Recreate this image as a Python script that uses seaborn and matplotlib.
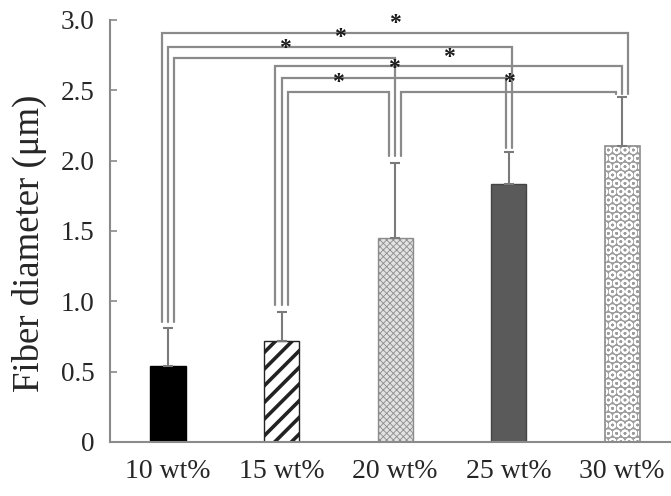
import matplotlib
matplotlib.use("Agg")
import matplotlib.pyplot as plt
import seaborn as sns
import pandas as pd

# Values
labels = ["10 wt%", "15 wt%", "20 wt%", "25 wt%", "30 wt%"]
diameter = [0.54, 0.72, 1.45, 1.83, 2.10]
sdUpper = [0.27, 0.20, 0.53, 0.23, 0.35]

# significance brackets: (left bar, right bar), bracket height, leg bottom per bar
pairs = [(0, 4), (0, 3), (0, 2), (1, 4), (1, 3), (1, 2), (2, 4)]
pairHeight = [2.91, 2.81, 2.73, 2.67, 2.59, 2.49, 2.49]
legBottom = [0.85, 0.97, 2.03, 2.09, 2.47]


def drawChart() -> None:
    sns.set_theme(style="white")
    plt.rcParams["font.family"] = ["Liberation Serif", "DejaVu Serif"]

    df = pd.DataFrame({"conc": labels, "diameter": diameter})
    fig = plt.figure(figsize=(6.71, 4.96), dpi=100)
    ax = fig.add_axes([0.164, 0.109, 0.836, 0.851])

    barWidth = 0.31
    faces = ["#000000", "#ffffff", "#e2e2e2", "#5a5a5a", "#9c9c9c"]
    sns.barplot(
        data=df, x="conc", y="diameter", hue="conc", palette=faces,
        width=barWidth, legend=False, errorbar=None, ax=ax, saturation=1,
    )

    # hatch colour follows the edge colour, so the last bar gets white rings
    # and a separate outline on top
    edges = ["#000000", "#222222", "#8c8c8c", "#444444", "#ffffff"]
    hatches = [None, "//", "xxxxx", None, "OO"]
    hatchWidth = [1, 2.6, 0.6, 1, 1.3]
    edgeWidth = [1.0, 1.0, 1.0, 1.0, 0.0]
    for bar, ec, h, hw, ew in zip(ax.patches, edges, hatches, hatchWidth, edgeWidth):
        bar.set_edgecolor(ec)
        bar.set_linewidth(ew)
        if h:
            bar.set_hatch(h)
            bar.set_hatch_linewidth(hw)
    ax.bar(len(labels) - 1, diameter[-1], width=barWidth, fill=False,
           edgecolor="#8c8c8c", linewidth=1.2)

    # upper-only error bars
    xs = list(range(len(labels)))
    ax.errorbar(
        xs, diameter, yerr=[[0] * len(sdUpper), sdUpper], fmt="none",
        ecolor="#7a7a7a", elinewidth=1.5, capsize=3.5, capthick=1.5,
    )

    # work out leg positions per bar
    gap = 0.055
    legs = {k: [] for k in xs}
    for idx, (i, j) in enumerate(pairs):
        legs[i].append((1, -pairHeight[idx], idx))  # left ends: higher further left
        legs[j].append((0, pairHeight[idx], idx))  # right ends: higher further right
    legX = {}
    for k, items in legs.items():
        items.sort()
        n = len(items)
        for pos, (side, _, idx) in enumerate(items):
            legX[(idx, k)] = k + (pos - (n - 1) / 2) * gap

    lineColor = "#8a8a8a"
    for idx, (i, j) in enumerate(pairs):
        h = pairHeight[idx]
        xl = legX[(idx, i)]
        xr = legX[(idx, j)]
        ax.plot([xl, xl, xr, xr], [legBottom[i], h, h, legBottom[j]],
                color=lineColor, lw=1.6, solid_joinstyle="miter")
        ax.text((xl + xr) / 2, h - 0.01, "*", ha="center", va="bottom",
                fontsize=17, fontweight="bold", color="#1a1a1a")

    ax.set_xlim(-0.511, 4.43)
    ax.set_ylim(0, 3.0)
    ax.set_yticks([0, 0.5, 1.0, 1.5, 2.0, 2.5, 3.0])
    ax.set_yticklabels(["0", "0.5", "1.0", "1.5", "2.0", "2.5", "3.0"])
    ax.set_xlabel("")
    ax.set_ylabel("Fiber diameter (\u03bcm)", fontsize=26.5)
    ax.yaxis.set_label_coords(-0.112, 0.47)

    for side in ["top", "right"]:
        ax.spines[side].set_visible(False)
    for side in ["left", "bottom"]:
        ax.spines[side].set_color("#8a8a8a")
        ax.spines[side].set_linewidth(1.5)
    ax.tick_params(axis="y", direction="in", length=5, width=1.2,
                   color="#8a8a8a", labelsize=19.5, pad=11, left=True)
    ax.tick_params(axis="x", length=0, labelsize=20, pad=12)

    fig.savefig("out.png", dpi=100)
    plt.close(fig)


if __name__ == "__main__":
    drawChart()
